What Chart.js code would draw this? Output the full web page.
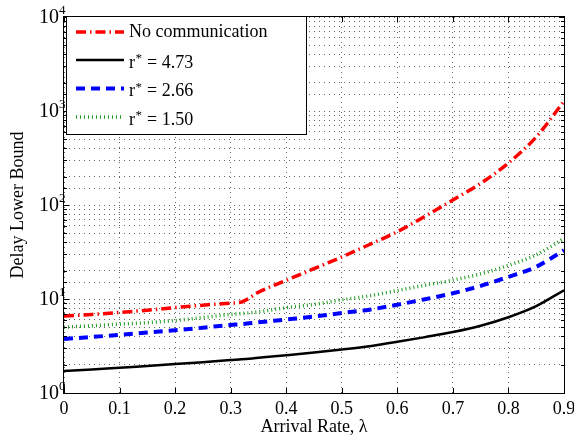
<!DOCTYPE html>
<html><head><meta charset="utf-8">
<script src="https://cdn.jsdelivr.net/npm/chart.js@4.4.0/dist/chart.umd.min.js"></script>
<style>html,body{margin:0;padding:0;background:#fff}canvas{display:block}</style>
</head><body>
<canvas id="c" width="574" height="437"></canvas>
<script>
// ---- data ----
const lambda  = [0, 0.05, 0.1, 0.15, 0.2, 0.25, 0.3, 0.32, 0.35, 0.4, 0.45, 0.5, 0.55, 0.6, 0.65, 0.7, 0.75, 0.8, 0.85, 0.9];
const noComm  = [6.6, 6.85, 7.2, 7.6, 8.1, 8.6, 9.05, 9.3, 11.8, 15.8, 21, 28, 38, 52, 76, 113, 170, 280, 530, 1270];
const r473    = [1.71, 1.78, 1.86, 1.94, 2.03, 2.13, 2.24, 2.28, 2.37, 2.52, 2.69, 2.9, 3.15, 3.5, 3.93, 4.45, 5.2, 6.4, 8.4, 12.4];
const r266    = [3.75, 3.95, 4.15, 4.4, 4.65, 4.95, 5.3, 5.4, 5.65, 6.05, 6.5, 7.1, 7.7, 8.7, 9.95, 11.5, 13.8, 17.2, 22, 33];
const r150    = [5.0, 5.2, 5.4, 5.6, 5.9, 6.35, 6.85, 7.0, 7.3, 8.1, 8.75, 9.8, 10.8, 12.3, 14, 15.9, 18.5, 22.8, 29.5, 44];
const seriesNames = ['No communication', 'r* = 4.73', 'r* = 2.66', 'r* = 1.50'];
const xTickValues = [0, 0.1, 0.2, 0.3, 0.4, 0.5, 0.6, 0.7, 0.8, 0.9];
const xTickLabels = ['0', '0.1', '0.2', '0.3', '0.4', '0.5', '0.6', '0.7', '0.8', '0.9'];
const yTickExponents = [0, 1, 2, 3, 4];
const xTitle = 'Arrival Rate, \u03bb';
const yTitle = 'Delay Lower Bound';

const FONT = '"Liberation Serif", "Times New Roman", serif';
const pts = arr => lambda.map((x, i) => ({x: x, y: arr[i]}));

const styles = [
  {color: '#ff0000', width: 3.5, dash: [10, 4, 1.5, 4]},
  {color: '#000000', width: 2.5, dash: []},
  {color: '#0000ff', width: 4, dash: [9, 6]},
  {color: '#1f9a1f', width: 3.5, dash: [1, 3]}
];
const values = [noComm, r473, r266, r150];

const decor = {
  id: 'decor',
  afterDraw(chart) {
    const {ctx, chartArea: a, scales: {x, y}} = chart;
    ctx.save();
    // frame
    ctx.strokeStyle = '#000'; ctx.lineWidth = 1; ctx.setLineDash([]);
    ctx.strokeRect(a.left - 0.5, a.top - 0.5, a.right - a.left + 1, a.bottom - a.top + 1);
    // inward ticks
    ctx.beginPath();
    xTickValues.forEach(v => {
      const px = Math.round(x.getPixelForValue(v)) + 0.5;
      ctx.moveTo(px, a.bottom); ctx.lineTo(px, a.bottom - 5);
      ctx.moveTo(px, a.top); ctx.lineTo(px, a.top + 5);
    });
    y.ticks.forEach(t => {
      const py = Math.round(y.getPixelForValue(t.value)) + 0.5;
      const m = t.value / Math.pow(10, Math.floor(Math.log10(t.value) + 1e-9));
      const len = Math.abs(m - 1) < 1e-6 ? 5 : 3;
      ctx.moveTo(a.left, py); ctx.lineTo(a.left + len, py);
      ctx.moveTo(a.right, py); ctx.lineTo(a.right - len, py);
    });
    ctx.stroke();
    // x tick labels
    ctx.fillStyle = '#000';
    ctx.font = '18px ' + FONT;
    ctx.textAlign = 'center'; ctx.textBaseline = 'top';
    xTickValues.forEach((v, i) => ctx.fillText(xTickLabels[i], x.getPixelForValue(v), a.bottom + 7));
    // y tick labels 10^n
    yTickExponents.forEach(e => {
      const py = y.getPixelForValue(Math.pow(10, e));
      ctx.font = '20px ' + FONT; ctx.textAlign = 'right'; ctx.textBaseline = 'middle';
      ctx.fillText('10', a.left - 5, py + 1);
      ctx.font = '13px ' + FONT; ctx.textAlign = 'left'; ctx.textBaseline = 'alphabetic';
      ctx.fillText(String(e), a.left - 5, py - 3);
    });
    // axis titles
    ctx.font = '18px ' + FONT; ctx.textAlign = 'center'; ctx.textBaseline = 'middle';
    ctx.fillText(xTitle, (a.left + a.right) / 2, 427);
    ctx.save();
    ctx.translate(18, (a.top + a.bottom) / 2);
    ctx.rotate(-Math.PI / 2);
    ctx.fillText(yTitle, 0, 0);
    ctx.restore();
    // legend box
    const bx = a.left + 2.5, by = a.top - 0.5, bw = 240, bh = 118;
    ctx.fillStyle = '#fff';
    ctx.fillRect(bx, by, bw, bh);
    ctx.strokeStyle = '#000'; ctx.lineWidth = 1;
    ctx.strokeRect(bx, by, bw, bh);
    const rows = [32, 60, 88.5, 117];
    chart.data.datasets.forEach((ds, i) => {
      const st = styles[i];
      const ry = rows[i];
      ctx.strokeStyle = st.color; ctx.lineWidth = st.width; ctx.setLineDash(st.dash);
      ctx.lineCap = 'butt';
      ctx.beginPath(); ctx.moveTo(76, ry); ctx.lineTo(124, ry); ctx.stroke();
      ctx.setLineDash([]);
      ctx.fillStyle = '#000';
      const name = ds.label;
      if (name.indexOf('*') >= 0) {
        const parts = name.split('*');
        ctx.font = '18px ' + FONT; ctx.textAlign = 'left'; ctx.textBaseline = 'alphabetic';
        ctx.fillText(parts[0], 129, ry + 7.5);
        const w0 = ctx.measureText(parts[0]).width;
        ctx.font = '13px ' + FONT;
        ctx.fillText('*', 129 + w0 + 0.5, ry + 2);
        const w1 = ctx.measureText('*').width;
        ctx.font = '18px ' + FONT;
        ctx.fillText(parts[1], 129 + w0 + w1 + 1, ry + 7.5);
      } else {
        ctx.font = '18px ' + FONT; ctx.textAlign = 'left'; ctx.textBaseline = 'middle';
        ctx.fillText(name, 129, ry + 0.5);
      }
    });
    ctx.restore();
  }
};

const gridOpts = {color: 'rgba(0,0,0,0.6)', lineWidth: 1, drawTicks: false};

new Chart(document.getElementById('c'), {
  type: 'line',
  data: {
    datasets: values.map((arr, i) => ({
      label: seriesNames[i],
      data: pts(arr),
      borderColor: styles[i].color,
      borderWidth: styles[i].width,
      borderDash: styles[i].dash,
      borderCapStyle: 'butt',
      pointRadius: 0,
      fill: false,
      cubicInterpolationMode: 'monotone'
    }))
  },
  options: {
    responsive: false,
    animation: false,
    devicePixelRatio: 1,
    layout: {padding: {left: 64, right: 10, top: 17, bottom: 44}},
    plugins: {legend: {display: false}, tooltip: {enabled: false}},
    scales: {
      x: {
        type: 'linear', min: 0, max: 0.9,
        ticks: {display: false, stepSize: 0.1},
        grid: gridOpts,
        border: {display: false, dash: [1, 4]},
        afterFit(s) { s.height = 0; }
      },
      y: {
        type: 'logarithmic', min: 1, max: 10000,
        ticks: {display: false, autoSkip: false},
        grid: gridOpts,
        border: {display: false, dash: [1, 4]},
        afterFit(s) { s.width = 0; }
      }
    }
  },
  plugins: [decor]
});
</script>
</body></html>
